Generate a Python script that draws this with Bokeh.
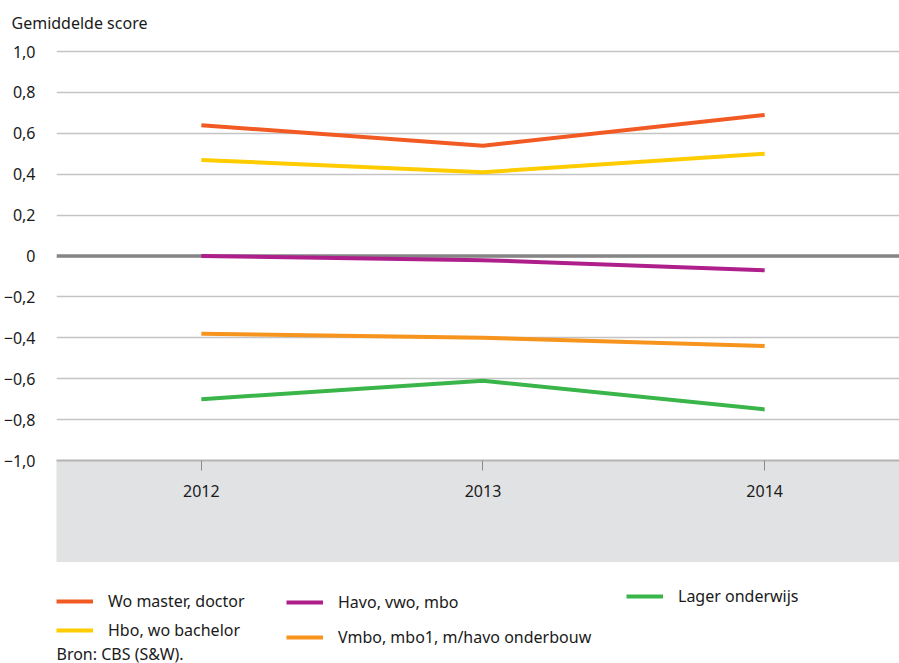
from bokeh.plotting import figure
from bokeh.layouts import column
from bokeh.models import (Range1d, FixedTicker, CustomJSTickFormatter, Span, Legend,
                          LegendItem, Title, Label)
from bokeh.embed import file_html
from bokeh.resources import INLINE

# ---- data ----
years = [2012, 2013, 2014]
wo_master = [0.64, 0.54, 0.69]
hbo_wo_bachelor = [0.47, 0.41, 0.50]
havo_vwo_mbo = [0.00, -0.02, -0.07]
vmbo_mbo1 = [-0.38, -0.40, -0.44]
lager_onderwijs = [-0.70, -0.61, -0.75]

series_names = ["Wo master, doctor", "Hbo, wo bachelor", "Havo, vwo, mbo",
                "Vmbo, mbo1, m/havo onderbouw", "Lager onderwijs"]
series_values = [wo_master, hbo_wo_bachelor, havo_vwo_mbo, vmbo_mbo1, lager_onderwijs]
series_colors = ["#F15A22", "#FFCC00", "#AF1F8C", "#F7941D", "#3AB54A"]

y_ticks = [-1.0, -0.8, -0.6, -0.4, -0.2, 0.0, 0.2, 0.4, 0.6, 0.8, 1.0]
y_title = "Gemiddelde score"
source_text = "Bron: CBS (S&W)."

FONT = "Noto Sans"
FS = "16px"
TXT = "#1a1a1a"
W = 899

# ---------------- main chart ----------------
p = figure(width=W, height=562, output_backend="svg", toolbar_location=None,
           x_range=Range1d(2011.4858, 2014.4787), y_range=Range1d(-1.0, 1.02),
           min_border_left=55, min_border_right=0, min_border_top=0, min_border_bottom=0)
p.outline_line_color = None
p.background_fill_color = "white"
p.border_fill_color = "white"

yax = p.yaxis[0]
yax.ticker = FixedTicker(ticks=y_ticks)
yax.formatter = CustomJSTickFormatter(code="""
if (Math.abs(tick) < 1e-9) { return '0'; }
var s = Math.abs(tick).toFixed(1).replace('.', ',');
return (tick < 0 ? '\u2212' : '') + s;
""")
yax.axis_line_color = None
yax.major_tick_line_color = None
yax.minor_tick_line_color = None
yax.major_label_standoff = 15
yax.major_label_text_font = FONT
yax.major_label_text_font_size = FS
yax.major_label_text_color = TXT

p.ygrid.ticker = FixedTicker(ticks=y_ticks)
p.ygrid.grid_line_color = "#c4c4c4"
p.ygrid.grid_line_width = 1.5
p.xgrid.grid_line_color = None

xax = p.xaxis[0]
xax.ticker = FixedTicker(ticks=years)
xax.major_label_text_font = FONT
xax.major_label_text_font_size = FS
xax.major_label_text_color = TXT
xax.major_tick_out = 10
xax.major_tick_in = 0
xax.major_tick_line_color = "#8a8a8a"
xax.minor_tick_line_color = None
xax.axis_line_color = "#b4b4b4"
xax.axis_line_width = 2
xax.major_label_standoff = 14
xax.axis_label = " "
xax.axis_label_text_font_size = "17px"
xax.axis_label_standoff = 41
xax.background_fill_color = "#e1e2e4"

zero = Span(location=0, dimension="width", line_color="#858585", line_width=3.5,
            level="underlay")
p.add_layout(zero)

for vals, col in zip(series_values, series_colors):
    p.line(years, vals, line_color=col, line_width=4)

p.add_layout(Title(text=y_title, align="left", offset=-45, standoff=23,
                   vertical_align="top",
                   text_font=FONT, text_font_size=FS, text_font_style="normal",
                   text_color=TXT), "above")

# ---------------- legend / source strip ----------------
q = figure(width=W, height=101, output_backend="svg", toolbar_location=None,
           x_axis_location=None, y_axis_location=None,
           x_range=Range1d(0, 1), y_range=Range1d(0, 1),
           min_border_left=55, min_border_right=0, min_border_top=0, min_border_bottom=0)
q.outline_line_color = None
q.xgrid.grid_line_color = None
q.ygrid.grid_line_color = None

# legend proxies: same series, outside this strip's visible range
proxy = [q.line(years, vals, line_color=c, line_width=4)
         for vals, c in zip(series_values, series_colors)]

def make_legend(idx, loc, spacing):
    return Legend(items=[LegendItem(label=series_names[i], renderers=[proxy[i]]) for i in idx],
                  location=loc, orientation="vertical", margin=0, padding=0,
                  spacing=spacing, glyph_width=37, glyph_height=18, label_height=18,
                  label_standoff=15, border_line_color=None, background_fill_alpha=0,
                  label_text_font=FONT, label_text_font_size=FS, label_text_color=TXT)

q.add_layout(make_legend([0, 1], (0, 22), 7))
q.add_layout(make_legend([2, 3], (230, 15), 13))
q.add_layout(make_legend([4], (570, 56), 0))

q.add_layout(Label(x=0, y=10, x_units="screen", y_units="screen", text=source_text,
                   text_baseline="middle", text_font=FONT, text_font_size=FS,
                   text_color=TXT))

layout = column(p, q, spacing=0)
open("out.html", "w").write(file_html(layout, INLINE))
